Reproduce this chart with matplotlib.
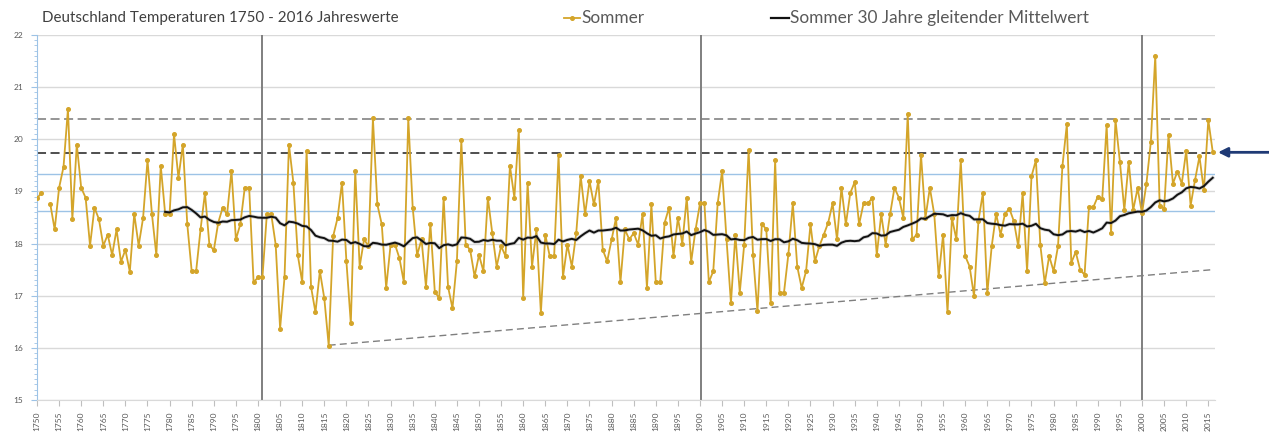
import numpy as np
import pandas as pd
import matplotlib
matplotlib.use("Agg")
import matplotlib.pyplot as plt
from matplotlib.lines import Line2D
from matplotlib.ticker import MultipleLocator

plt.rcParams['font.family'] = ['Lato', 'DejaVu Sans']

# ---------------- data ----------------
years = list(range(1750, 2017))
summer = [
    # 1750-1759
    18.87, 18.97, np.nan, 18.76, 18.27, 19.07, 19.47, 20.58, 18.47, 19.90,
    # 1760-1769
    19.07, 18.88, 17.96, 18.69, 18.47, 17.96, 18.17, 17.78, 18.27, 17.65,
    # 1770-1779
    17.88, 17.46, 18.57, 17.96, 18.49, 19.60, 18.57, 17.78, 19.49, 18.57,
    # 1780-1789
    18.57, 20.10, 19.26, 19.90, 18.37, 17.47, 17.47, 18.27, 18.97, 17.98,
    # 1790-1799
    17.87, 18.40, 18.69, 18.56, 19.39, 18.08, 18.37, 19.07, 19.07, 17.26,
    # 1800-1809
    17.35, 17.35, 18.56, 18.56, 17.98, 16.37, 17.35, 19.90, 19.17, 17.78,
    # 1810-1819
    17.26, 19.78, 17.17, 16.68, 17.47, 16.95, 16.04, 18.14, 18.49, 19.17,
    # 1820-1829
    17.66, 16.47, 19.39, 17.56, 18.08, 17.95, 20.40, 18.75, 18.37, 17.15,
    # 1830-1839
    17.98, 17.98, 17.72, 17.26, 20.40, 18.69, 17.78, 18.08, 17.17, 18.38,
    # 1840-1849
    17.08, 16.95, 18.88, 17.17, 16.76, 17.66, 19.98, 17.98, 17.88, 17.37,
    # 1850-1859
    17.78, 17.47, 18.88, 18.20, 17.56, 17.95, 17.76, 19.49, 18.88, 20.17,
    # 1860-1869
    16.95, 19.17, 17.56, 18.27, 16.67, 18.17, 17.76, 17.76, 19.70, 17.36,
    # 1870-1879
    17.98, 17.56, 18.20, 19.30, 18.56, 19.20, 18.75, 19.20, 17.88, 17.66,
    # 1880-1889
    18.08, 18.49, 17.26, 18.27, 18.08, 18.20, 17.98, 18.56, 17.15, 18.75,
    # 1890-1899
    17.26, 17.26, 18.40, 18.69, 17.76, 18.49, 18.00, 18.88, 17.65, 18.27,
    # 1900-1909
    18.77, 18.77, 17.26, 17.47, 18.77, 19.39, 18.08, 16.86, 18.17, 17.06,
    # 1910-1919
    17.98, 19.79, 17.78, 16.70, 18.38, 18.27, 16.86, 19.60, 17.06, 17.06,
    # 1920-1929
    17.80, 18.77, 17.56, 17.15, 17.47, 18.37, 17.66, 17.95, 18.17, 18.40,
    # 1930-1939
    18.77, 18.08, 19.07, 18.37, 18.97, 19.18, 18.37, 18.77, 18.77, 18.88,
    # 1940-1949
    17.78, 18.56, 17.98, 18.56, 19.07, 18.88, 18.49, 20.49, 18.08, 18.17,
    # 1950-1959
    19.70, 18.49, 19.07, 18.56, 17.37, 18.17, 16.68, 18.49, 18.08, 19.60,
    # 1960-1969
    17.76, 17.56, 16.99, 18.44, 18.97, 17.05, 17.95, 18.57, 18.17, 18.57,
    # 1970-1979
    18.67, 18.43, 17.95, 18.97, 17.47, 19.29, 19.60, 17.97, 17.24, 17.76,
    # 1980-1989
    17.47, 17.95, 19.49, 20.29, 17.63, 17.84, 17.50, 17.40, 18.70, 18.70,
    # 1990-1999
    18.90, 18.85, 20.27, 18.20, 20.37, 19.57, 18.64, 19.57, 18.64, 19.06,
    # 2000-2009
    18.58, 19.15, 19.95, 21.60, 18.73, 18.67, 20.08, 19.15, 19.38, 19.15,
    # 2010-2016
    19.78, 18.73, 19.22, 19.67, 19.02, 20.37, 19.76,
]
assert len(summer) == len(years)

ma_window = 30
dashed_levels = [20.38, 19.73]
blue_levels = [19.34, 18.62]
century_lines = [1800.8, 1900.2, 2000.0]
trend_years = [1816, 2016]
trend_values = [16.05, 17.50]
arrow_level = 19.75

title = "Deutschland Temperaturen 1750 - 2016 Jahreswerte"
label_summer = "Sommer"
label_ma = "Sommer 30 Jahre gleitender Mittelwert"

# ---------------- styling ----------------
W, H = 1269, 441
gold = '#D4A52A'
navy = '#1F3A75'
txt = '#595959'

ma = pd.Series(summer).rolling(ma_window, min_periods=29).mean()

fig = plt.figure(figsize=(W / 100, H / 100), dpi=100)
ax = fig.add_axes([37 / W, 41 / H, (1215 - 37) / W, 365 / H])

ax.set_xlim(1750, 1750 + (1215 - 37) / 4.42)
ax.set_ylim(15, 22)

# grid
ax.set_yticks(range(15, 23))
ax.yaxis.set_minor_locator(MultipleLocator(0.1))
ax.yaxis.grid(True, which='major', color='#d9d9d9', lw=1, zorder=0)
ax.set_axisbelow(True)

for s in ['top', 'right']:
    ax.spines[s].set_visible(False)
ax.spines['left'].set_color('#9dc3e6')
ax.spines['bottom'].set_color('#d9d9d9')

ax.tick_params(axis='y', which='major', colors='#9dc3e6', length=4, labelsize=6,
               labelcolor=txt, pad=6)
ax.tick_params(axis='y', which='minor', colors='#9dc3e6', length=2.5)
xt = list(range(1750, 2016, 5))
ax.set_xticks(xt)
ax.set_xticklabels([str(y) for y in xt], rotation=90)
ax.tick_params(axis='x', colors='#bfbfbf', length=4, labelsize=6, labelcolor=txt, pad=4)

# reference lines
ax.axhline(dashed_levels[0], color='#8c8c8c', lw=1.3, ls=(0, (5, 2.5)), zorder=1)
ax.axhline(dashed_levels[1], color='#404040', lw=1.3, ls=(0, (5, 2.5)), zorder=1)
for lv in blue_levels:
    ax.axhline(lv, color='#9dc3e6', lw=1.0, zorder=1)
for cy in century_lines:
    ax.axvline(cy, color='#7f7f7f', lw=1.4, zorder=1)
ax.plot(trend_years, trend_values, color='#7f7f7f', lw=1.0, ls=(0, (5, 3)), zorder=2)

# series
ax.plot(years, summer, color=gold, lw=1.3, marker='o', ms=2.6, mfc=gold, mec=gold,
        zorder=3)
ax.plot(years, ma, color='#7f7f7f', lw=2.6, alpha=0.35, zorder=4)
ax.plot(years, ma, color='#111111', lw=1.4, zorder=5)

# arrow on the right
ax.annotate('', xy=(1218 / W, arrow_level), xytext=(1.0, arrow_level),
            xycoords=('figure fraction', 'data'), textcoords=('figure fraction', 'data'),
            arrowprops=dict(arrowstyle='-|>', color=navy, lw=2, mutation_scale=14,
                            shrinkA=0, shrinkB=0), annotation_clip=False)

# title
fig.text(42 / W, 1 - 18 / H, title, fontsize=10.9, color='#404040', va='center', ha='left')

# legend (manual)
ly = 1 - 18 / H
fig.add_artist(Line2D([564 / W, 572 / W, 580 / W], [ly, ly, ly], transform=fig.transFigure,
                      color=gold, lw=1.3, marker='o', ms=2.6, markevery=[1]))
fig.text(581 / W, ly, label_summer, fontsize=12.4, color=txt, va='center', ha='left')
fig.add_artist(Line2D([771 / W, 789 / W], [ly, ly], transform=fig.transFigure,
                      color='#111111', lw=1.6))
fig.text(790 / W, ly, label_ma, fontsize=12.4, color=txt, va='center', ha='left')

fig.savefig('out.png', dpi=100)
